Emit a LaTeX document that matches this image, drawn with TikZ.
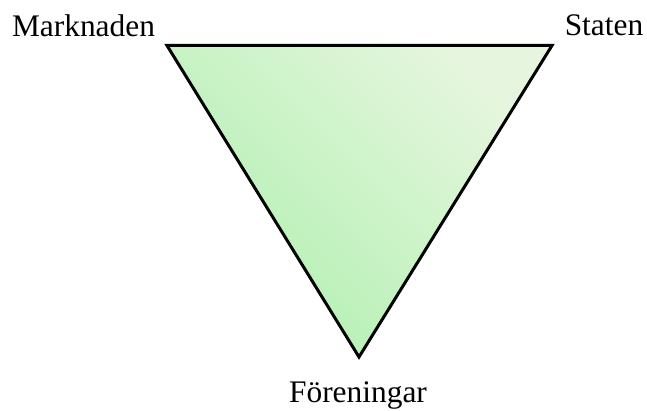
\documentclass[tikz,border=0pt]{standalone}
\usepackage{fontspec}
\setmainfont{Liberation Serif}
\begin{document}
\begin{tikzpicture}[x=1pt,y=-1pt,
  lbl/.style={anchor=base,inner sep=0pt,font=\fontsize{31.4}{36}\selectfont},
  tri/.style={draw=black,line width=3pt,line join=miter}]
\useasboundingbox (0,0) rectangle (647,411);
\coordinate (m) at (167,45.5);
\coordinate (s) at (552,45.5);
\coordinate (f) at (359,357);
\shade[bottom color={rgb,255:red,176;green,240;blue,176},top color={rgb,255:red,230;green,246;blue,222},shading angle=-45]
  (m) -- (s) -- (f) -- cycle;
\draw[tri] (m) -- (s) -- (f) -- cycle;
\node[lbl] (markn) at (83.5,37) {Marknaden};
\node[lbl] (staten) at (604,36) {Staten};
\node[lbl] (foren) at (358,402) {Föreningar};
\end{tikzpicture}
\end{document}
